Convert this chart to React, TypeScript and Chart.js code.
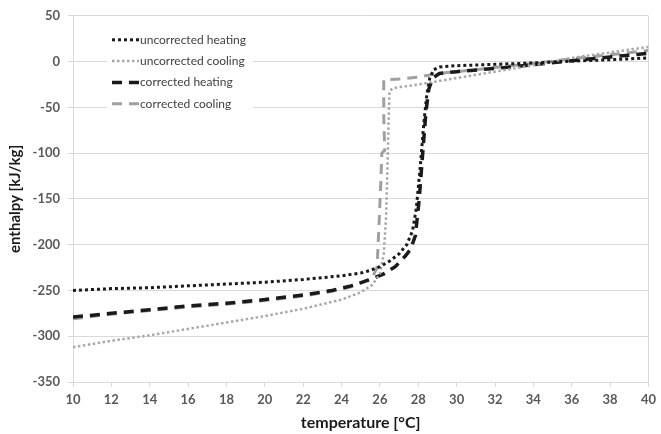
import React, { useEffect, useRef } from "react";
import { Chart, registerables } from "chart.js";

Chart.register(...registerables);

// ---- data ----
const seriesNames = [
  "uncorrected heating",
  "uncorrected cooling",
  "corrected heating",
  "corrected cooling",
];

// uncorrected heating
const uhT = [10, 12, 14, 16, 18, 20, 22, 24, 25, 25.5, 26, 26.5, 27, 27.4, 27.7, 27.9, 28.1, 28.3, 28.45, 28.6, 28.8, 29.1, 29.6, 30, 32, 34, 36, 38, 40];
const uhV = [-250, -248, -247, -245, -243, -241, -238, -234, -231, -228, -224, -218, -210, -200, -185, -160, -115, -65, -35, -18, -9, -6, -5, -4.5, -3, -1.5, 0.5, 2, 4];

// uncorrected cooling
const ucT = [10, 12, 14, 16, 18, 20, 22, 24, 25, 25.6, 26.0, 26.2, 26.32, 26.4, 26.46, 26.5, 26.7, 28, 30, 32, 34, 36, 38, 40];
const ucV = [-312, -305, -299, -292, -285, -278, -270, -260, -252, -244, -232, -210, -170, -110, -60, -32, -29, -25, -18, -11, -4, 4, 10, 16];

// corrected heating
const chT = [10, 12, 14, 16, 18, 20, 22, 23.5, 24.5, 25.5, 26.2, 26.8, 27.3, 27.6, 27.85, 28.05, 28.25, 28.4, 28.55, 28.75, 29.1, 30, 32, 34, 36, 38, 40];
const chV = [-279, -275, -271, -267, -264, -260, -255, -250, -245, -238, -232, -224, -213, -205, -190, -150, -95, -55, -30, -18, -13, -11, -7.5, -3.5, 1, 5, 9];

// corrected cooling
const ccT = [10, 12, 14, 16, 18, 20, 22, 23.5, 24.5, 25.2, 25.6, 25.85, 25.95, 26.05, 26.1, 26.25, 26.2, 26.2, 27, 28, 28.8, 29.5, 30, 32, 34, 36, 38, 40];
const ccV = [-281, -276, -272, -268, -265, -261, -256, -251, -246, -240, -236, -225, -180, -130, -100, -97, -60, -20, -19, -17, -14, -12, -11, -6.5, -2, 3, 7.5, 12];

const xTicks = [10, 12, 14, 16, 18, 20, 22, 24, 26, 28, 30, 32, 34, 36, 38, 40];
const yTicks = [-350, -300, -250, -200, -150, -100, -50, 0, 50];

const xTitle = "temperature [°C]";
const yTitle = "enthalpy [kJ/kg]";

function pts(t: number[], v: number[]) {
  return t.map((x, i) => ({ x, y: v[i] }));
}

const FONT = "Lato, 'Open Sans', sans-serif";
const GRID = "#d9d9d9";

const insideLegend = {
  id: "insideLegend",
  beforeDatasetsDraw(chart: any) {
    const { ctx, chartArea } = chart;
    const left = chartArea.left;
    const top = chartArea.top;
    ctx.save();
    ctx.fillStyle = "#ffffff";
    ctx.fillRect(left + 34, top + 9, 146, 92);
    const rowGap = 21.3;
    chart.data.datasets.forEach((ds: any, i: number) => {
      const y = top + 24 + i * rowGap;
      ctx.strokeStyle = ds.borderColor;
      ctx.lineWidth = ds.borderWidth;
      ctx.setLineDash(ds.borderDash || []);
      ctx.beginPath();
      ctx.moveTo(left + 39, y);
      ctx.lineTo(left + 66, y);
      ctx.stroke();
      ctx.setLineDash([]);
      ctx.fillStyle = "#404040";
      ctx.font = `12px ${FONT}`;
      ctx.textBaseline = "middle";
      ctx.textAlign = "left";
      ctx.fillText(ds.label, left + 67, y);
    });
    ctx.restore();
  },
};

export default function App() {
  const ref = useRef<HTMLCanvasElement | null>(null);

  useEffect(() => {
    if (!ref.current) return;
    const chart = new Chart(ref.current, {
      type: "line",
      data: {
        datasets: [
          {
            label: seriesNames[0],
            data: pts(uhT, uhV),
            borderColor: "#1a1a1a",
            borderWidth: 3,
            borderDash: [3, 3],
            pointRadius: 0,
            fill: false,
            tension: 0,
          },
          {
            label: seriesNames[1],
            data: pts(ucT, ucV),
            borderColor: "#a8a8a8",
            borderWidth: 2.5,
            borderDash: [2.5, 2.5],
            pointRadius: 0,
            fill: false,
            tension: 0,
          },
          {
            label: seriesNames[2],
            data: pts(chT, chV),
            borderColor: "#1a1a1a",
            borderWidth: 3.5,
            borderDash: [10, 7],
            pointRadius: 0,
            fill: false,
            tension: 0,
          },
          {
            label: seriesNames[3],
            data: pts(ccT, ccV),
            borderColor: "#a0a0a0",
            borderWidth: 3,
            borderDash: [10, 7],
            pointRadius: 0,
            fill: false,
            tension: 0,
          },
        ],
      },
      options: {
        responsive: false,
        animation: false,
        devicePixelRatio: 1,
        layout: { padding: { top: 15, right: 8, bottom: 0, left: 0 } },
        plugins: {
          legend: { display: false },
          tooltip: { enabled: false },
        },
        scales: {
          x: {
            type: "linear",
            min: 10,
            max: 40,
            afterBuildTicks: (s: any) => {
              s.ticks = xTicks.map((v) => ({ value: v }));
            },
            afterFit: (s: any) => {
              s.height = 52;
            },
            ticks: {
              autoSkip: false,
              maxRotation: 0,
              padding: 5,
              color: "#595959",
              font: { family: FONT, size: 13, weight: "bold" },
            },
            grid: {
              color: (c: any) => (c.index === xTicks.length - 1 ? GRID : "rgba(0,0,0,0)"),
              tickColor: GRID,
              tickLength: 5,
              lineWidth: 1,
            },
            border: { color: GRID },
            title: {
              display: true,
              text: xTitle,
              color: "#1a1a1a",
              font: { family: FONT, size: 16, weight: "bold" },
              padding: { top: 0, bottom: 2 },
            },
          },
          y: {
            type: "linear",
            min: -350,
            max: 50,
            afterBuildTicks: (s: any) => {
              s.ticks = yTicks.map((v) => ({ value: v }));
            },
            afterFit: (s: any) => {
              s.width = 73;
            },
            ticks: {
              padding: 8,
              color: "#595959",
              font: { family: FONT, size: 13, weight: "bold" },
            },
            grid: {
              color: GRID,
              tickColor: GRID,
              tickLength: 5,
              lineWidth: 1,
            },
            border: { color: GRID },
            title: {
              display: true,
              text: yTitle,
              color: "#1a1a1a",
              font: { family: FONT, size: 15, weight: "bold" },
              padding: { top: 6, bottom: 0 },
            },
          },
        },
      },
      plugins: [insideLegend],
    } as any);
    return () => chart.destroy();
  }, []);

  return (
    <div style={{ position: "fixed", left: 0, top: 0, width: 661, height: 434, background: "#fff" }}>
      <canvas ref={ref} width={661} height={434} style={{ display: "block", width: 661, height: 434 }} />
    </div>
  );
}
